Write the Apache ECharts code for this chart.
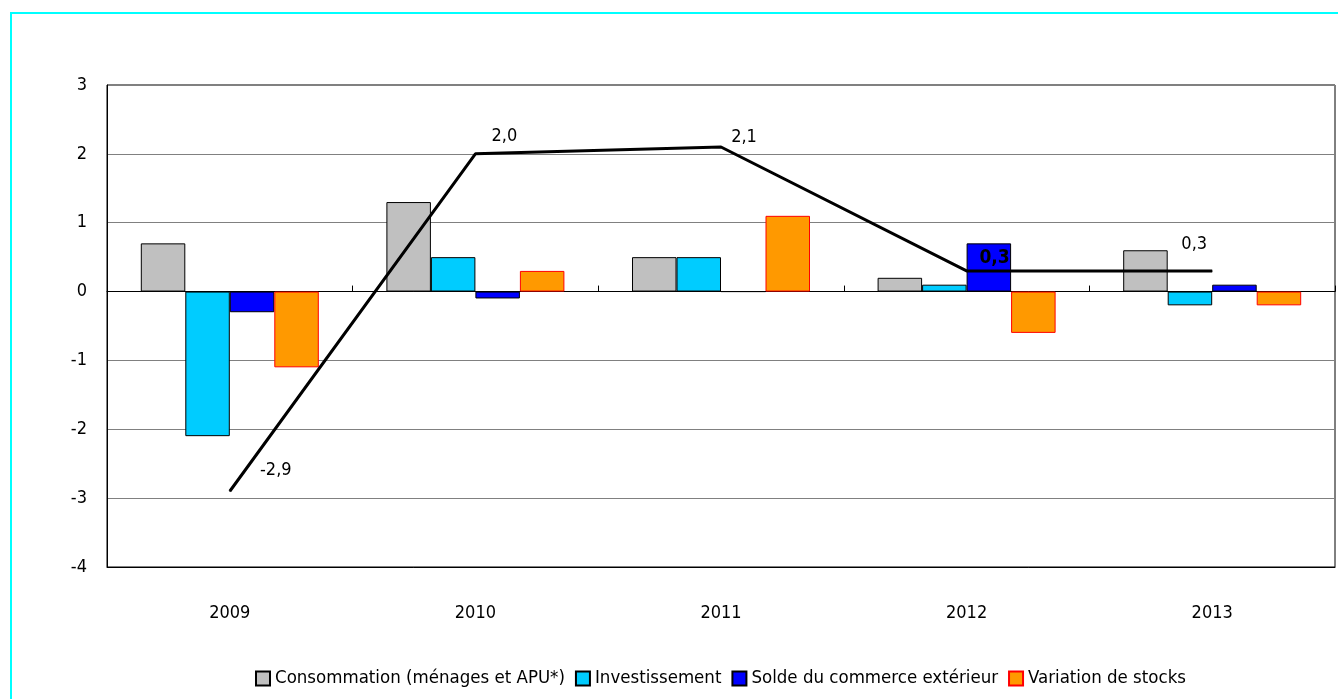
<html>
<head>
<meta charset="utf-8">
<script src="https://cdn.jsdelivr.net/npm/echarts@6/dist/echarts.min.js"></script>
<style>
  body { margin:0; background:#fff; }
  #frame { position:absolute; left:10px; top:12px; width:1400px; height:800px; border:2px solid #00FFFF; box-sizing:border-box; }
  #chart { position:absolute; left:0; top:0; width:1338px; height:699px; }
</style>
</head>
<body>
<div id="frame"></div>
<div id="chart"></div>
<script>
// données
var years = ['2009', '2010', '2011', '2012', '2013'];
var conso = [0.7, 1.3, 0.5, 0.2, 0.6];
var invest = [-2.1, 0.5, 0.5, 0.1, -0.2];
var solde = [-0.3, -0.1, 0, 0.7, 0.1];
var stocks = [-1.1, 0.3, 1.1, -0.6, -0.2];
var pib = [-2.9, 2.0, 2.1, 0.3, 0.3];
var pibLabels = ['-2,9', '2,0', '2,1', '0,3', '0,3'];

var font = '"Liberation Sans Narrow", "DejaVu Sans Condensed", sans-serif';

// position des étiquettes de la courbe
var labelOffsets = [[46, -21], [29, -18], [23, -10], [28, -13], [-18, -27]];
var labelBold = [false, false, false, true, false];

var pibData = pib.map(function (v, i) {
	return {
		value: v,
		label: {
			show: true,
			position: 'inside',
			offset: labelOffsets[i],
			formatter: pibLabels[i],
			fontWeight: labelBold[i] ? 'bold' : 'normal',
			fontSize: labelBold[i] ? 19 : 18
		}
	};
});

function bar(name, data, color, border) {
	return {
		name: name,
		type: 'bar',
		data: data,
		barWidth: 44.5,
		barGap: '0%',
		itemStyle: { color: color, borderColor: border, borderWidth: 1 }
	};
}

var myChart = echarts.init(document.getElementById('chart'));
var option = {
	animation: false,
	textStyle: { fontFamily: font },
	grid: { left: 107, top: 85, right: 3, bottom: 132, show: true, borderColor: '#000', borderWidth: 1 },
	legend: {
		bottom: 6,
		left: 250,
		icon: 'rect',
		itemWidth: 14,
		itemHeight: 14,
		itemGap: 10,
		data: ['Consommation (ménages et APU*)', 'Investissement', 'Solde du commerce extérieur', 'Variation de stocks'],
		textStyle: { fontFamily: font, fontSize: 18.5, color: '#000' }
	},
	xAxis: [
		{
			type: 'category',
			data: years,
			axisLine: { onZero: false, lineStyle: { color: '#000' } },
			axisTick: { show: false },
			axisLabel: { margin: 37, fontSize: 18, color: '#000', fontFamily: font }
		},
		{
			type: 'category',
			data: years,
			position: 'bottom',
			axisLine: { onZero: true, lineStyle: { color: '#000' } },
			axisTick: { show: true, inside: true, length: 6, lineStyle: { color: '#000' } },
			axisLabel: { show: false }
		}
	],
	yAxis: {
		type: 'value',
		min: -4,
		max: 3,
		interval: 1,
		axisLine: { show: true, lineStyle: { color: '#000' } },
		axisTick: { show: false },
		axisLabel: { margin: 20, fontSize: 18, color: '#000', fontFamily: font },
		splitLine: { lineStyle: { color: '#808080', width: 1 } }
	},
	series: [
		bar('Consommation (ménages et APU*)', conso, '#C0C0C0', '#000'),
		bar('Investissement', invest, '#00CCFF', '#000'),
		bar('Solde du commerce extérieur', solde, '#0000FF', '#000'),
		bar('Variation de stocks', stocks, '#FF9900', '#FF0000'),
		{
			name: 'PIB',
			type: 'line',
			data: pibData,
			symbol: 'circle',
			symbolSize: 1,
			itemStyle: { color: '#000' },
			lineStyle: { color: '#000', width: 3 },
			label: { color: '#000', fontFamily: font },
			z: 5
		}
	]
};
myChart.setOption(option);
</script>
</body>
</html>
